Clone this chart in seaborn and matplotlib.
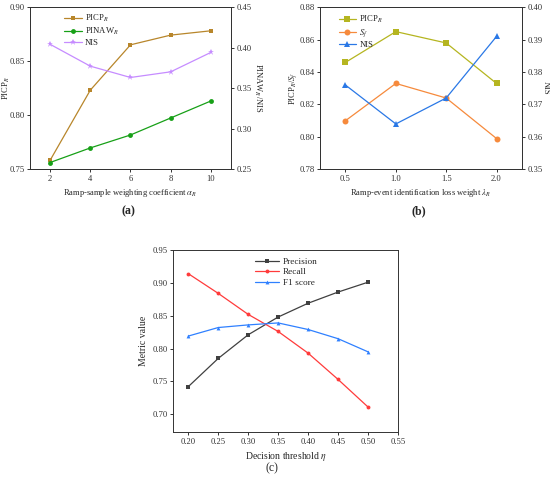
import matplotlib
matplotlib.use("Agg")
import matplotlib.pyplot as plt
import seaborn as sns
import pandas as pd

# ---- data (a)
alpha_r = [2, 4, 6, 8, 10]
picp_a = [0.758, 0.823, 0.865, 0.874, 0.878]
pinaw_a = [0.258, 0.276, 0.292, 0.313, 0.334]
nis_a = [0.404, 0.377, 0.363, 0.370, 0.394]

# ---- data (b)
lambda_r = [0.5, 1.0, 1.5, 2.0]
picp_b = [0.846, 0.865, 0.858, 0.833]
sf_b = [0.810, 0.833, 0.824, 0.799]
nis_b = [0.376, 0.364, 0.372, 0.391]

# ---- data (c)
eta = [0.20, 0.25, 0.30, 0.35, 0.40, 0.45, 0.50]
precision = [0.742, 0.785, 0.821, 0.848, 0.869, 0.886, 0.901]
recall = [0.914, 0.884, 0.852, 0.826, 0.793, 0.753, 0.711]
f1 = [0.819, 0.832, 0.836, 0.839, 0.829, 0.815, 0.795]

sns.set_style("ticks")
plt.rcParams['font.family'] = ['Liberation Serif', 'DejaVu Serif']
plt.rcParams['mathtext.fontset'] = 'stix'
plt.rcParams['axes.linewidth'] = 0.7
plt.rcParams['xtick.major.width'] = 0.7
plt.rcParams['ytick.major.width'] = 0.7
plt.rcParams['xtick.major.size'] = 2.5
plt.rcParams['ytick.major.size'] = 2.5
plt.rcParams['xtick.direction'] = 'out'
plt.rcParams['ytick.direction'] = 'out'

TF = 6.2
LF = 6.1
fig = plt.figure(figsize=(5.5, 4.82), dpi=100)

def style(ax):
    ax.tick_params(labelsize=TF, pad=1.5, colors='#333333')
    for s in ax.spines.values():
        s.set_color('#333333')

lw = 0.9
ms = 3.5
fmt2 = matplotlib.ticker.FormatStrFormatter('%.2f')

# ---------------- (a)
axa = fig.add_axes([0.0545, 0.6494, 0.3655, 0.336])
axa2 = axa.twinx()
da = pd.DataFrame({'x': alpha_r, 'picp': picp_a, 'pinaw': pinaw_a, 'nis': nis_a})
sns.lineplot(data=da, x='x', y='picp', ax=axa, color='#b8862b', marker='s', markersize=ms,
             markeredgewidth=0, linewidth=lw, label='PICP$_R$', legend=False)
sns.lineplot(data=da, x='x', y='pinaw', ax=axa2, color='#17a017', marker='o', markersize=ms,
             markeredgewidth=0, linewidth=lw, label='PINAW$_R$', legend=False)
sns.lineplot(data=da, x='x', y='nis', ax=axa2, color='#c68cff', marker='*', markersize=ms + 1.5,
             markeredgewidth=0, linewidth=lw, label='NIS', legend=False)
axa.set_xlim(1, 11)
axa.set_ylim(0.75, 0.90)
axa2.set_ylim(0.25, 0.45)
axa.set_xticks(alpha_r)
axa.set_yticks([0.75, 0.80, 0.85, 0.90])
axa2.set_yticks([0.25, 0.30, 0.35, 0.40, 0.45])
axa.yaxis.set_major_formatter(fmt2)
axa2.yaxis.set_major_formatter(fmt2)
axa.set_xlabel(r'Ramp-sample weighting coefficient $\alpha_R$', fontsize=LF, labelpad=3)
axa.set_ylabel('PICP$_R$', fontsize=LF, va='center')
axa2.set_ylabel('PINAW$_R$/NIS', fontsize=LF, rotation=270, va='center')
axa.yaxis.set_label_coords(-0.118, 0.5)
axa2.yaxis.set_label_coords(1.13, 0.5)
style(axa); style(axa2)
h1, l1 = axa.get_legend_handles_labels()
h2, l2 = axa2.get_legend_handles_labels()
axa.legend(h1 + h2, l1 + l2, loc='upper left', bbox_to_anchor=(0.15, 0.99), frameon=False,
           fontsize=TF, handlelength=2.0, borderpad=0, labelspacing=0.22, handletextpad=0.4)
fig.text(0.2327, 0.562, '(a)', fontsize=8.5, fontweight='bold', ha='center', va='center')

# ---------------- (b)
axb = fig.add_axes([0.5824, 0.6488, 0.3661, 0.336])
axb2 = axb.twinx()
db = pd.DataFrame({'x': lambda_r, 'picp': picp_b, 'sf': sf_b, 'nis': nis_b})
sns.lineplot(data=db, x='x', y='picp', ax=axb, color='#b5b520', marker='s', markersize=ms + 0.8,
             markeredgewidth=0, linewidth=lw, label='PICP$_R$', legend=False)
sns.lineplot(data=db, x='x', y='sf', ax=axb, color='#f68a3c', marker='o', markersize=ms + 0.8,
             markeredgewidth=0, linewidth=lw, label='$S_f$', legend=False)
sns.lineplot(data=db, x='x', y='nis', ax=axb2, color='#2a78e6', marker='^', markersize=ms + 0.8,
             markeredgewidth=0, linewidth=lw, label='NIS', legend=False)
axb.set_xlim(0.25, 2.25)
axb.set_ylim(0.78, 0.88)
axb2.set_ylim(0.35, 0.40)
axb.set_xticks(lambda_r)
axb.set_yticks([0.78, 0.80, 0.82, 0.84, 0.86, 0.88])
axb2.set_yticks([0.35, 0.36, 0.37, 0.38, 0.39, 0.40])
axb.xaxis.set_major_formatter(matplotlib.ticker.FormatStrFormatter('%.1f'))
axb.yaxis.set_major_formatter(fmt2)
axb2.yaxis.set_major_formatter(fmt2)
axb.set_xlabel(r'Ramp-event identification loss weight $\lambda_R$', fontsize=LF, labelpad=3)
axb.set_ylabel('PICP$_R$/$S_f$', fontsize=LF, va='center')
axb2.set_ylabel('NIS', fontsize=LF, rotation=270, va='center')
axb.yaxis.set_label_coords(-0.135, 0.5)
axb2.yaxis.set_label_coords(1.12, 0.5)
style(axb); style(axb2)
h1, l1 = axb.get_legend_handles_labels()
h2, l2 = axb2.get_legend_handles_labels()
axb.legend(h1 + h2, l1 + l2, loc='upper left', bbox_to_anchor=(0.07, 0.985), frameon=False,
           fontsize=TF, handlelength=2.0, borderpad=0, labelspacing=0.25, handletextpad=0.4)
fig.text(0.762, 0.562, '(b)', fontsize=8.5, fontweight='bold', ha='center', va='center')

# ---------------- (c)
axc = fig.add_axes([0.3151, 0.1031, 0.4085, 0.3782])
dc = pd.DataFrame({'x': eta, 'p': precision, 'r': recall, 'f': f1})
sns.lineplot(data=dc, x='x', y='p', ax=axc, color='#404040', marker='s', markersize=2.6,
             markeredgewidth=0, linewidth=lw, label='Precision')
sns.lineplot(data=dc, x='x', y='r', ax=axc, color='#ff3b3b', marker='o', markersize=2.8,
             markeredgewidth=0, linewidth=lw, label='Recall')
sns.lineplot(data=dc, x='x', y='f', ax=axc, color='#2f80ff', marker='^', markersize=2.8,
             markeredgewidth=0, linewidth=lw, label='F1 score')
axc.set_xlim(0.175, 0.55)
axc.set_ylim(0.6725, 0.95)
axc.set_xticks([0.20, 0.25, 0.30, 0.35, 0.40, 0.45, 0.50, 0.55])
axc.set_yticks([0.70, 0.75, 0.80, 0.85, 0.90, 0.95])
axc.xaxis.set_major_formatter(fmt2)
axc.yaxis.set_major_formatter(fmt2)
axc.set_xlabel(r'Decision threshold $\eta$', fontsize=7.0, labelpad=3)
axc.set_ylabel('Metric value', fontsize=7.0, labelpad=3)
style(axc)
axc.legend(loc='upper left', bbox_to_anchor=(0.343, 0.985), frameon=False,
           fontsize=TF + 0.5, handlelength=2.6, borderpad=0, labelspacing=0.22, handletextpad=0.4)
fig.text(0.4945, 0.029, '(c)', fontsize=8.5, ha='center', va='center')

fig.savefig('out.png', dpi=100)
